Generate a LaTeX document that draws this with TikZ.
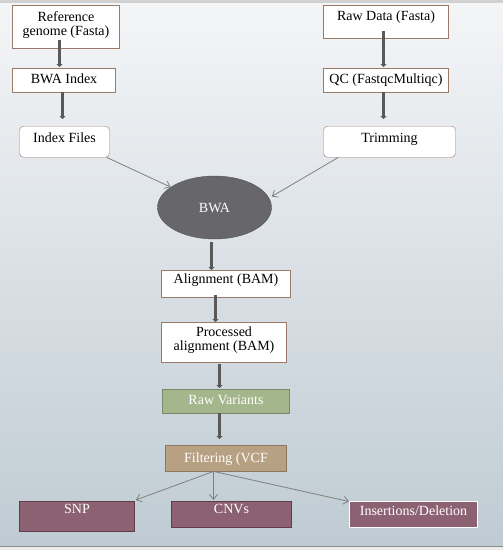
\documentclass[tikz,border=0pt]{standalone}
\usepackage{fontspec}
\setmainfont{Liberation Serif}
\usetikzlibrary{arrows.meta,shapes.geometric}

\definecolor{boxline}{HTML}{9B7A6A}
\definecolor{bwagrey}{HTML}{67666B}
\definecolor{varfill}{HTML}{A4B68B}
\definecolor{varline}{HTML}{7B8A66}
\definecolor{filtfill}{HTML}{B8A083}
\definecolor{filtline}{HTML}{8B7660}
\definecolor{outfill}{HTML}{8C6272}
\definecolor{outline}{HTML}{5F3C4A}
\definecolor{bgbottom}{HTML}{BFCBD3}
\definecolor{bgtop}{HTML}{F4F5F7}

\tikzset{
  flowbox/.style={draw=boxline, fill=white, anchor=north, inner xsep=0pt, inner ysep=0pt,
    align=center, font=\fontsize{14}{14}\selectfont},
  roundbox/.style={flowbox, rounded corners=4pt},
  fatarrow/.style={draw=black!65, line width=2.5pt, -{Triangle[length=3pt,width=6pt]}},
  thinarrow/.style={draw=black!50, line width=0.8pt, -{Straight Barb[length=5pt,width=8pt]}}
}

\begin{document}
\begin{tikzpicture}[x=1pt,y=-1pt]
% background
\shade[top color=bgtop, bottom color=bgbottom] (0,0) rectangle (502,546);
\fill[black!18] (0,0) rectangle (502,3);
\fill[white!92!black] (0,547) rectangle (502,550);
\draw[black!45, line width=1pt] (0,546.5) -- (502,546.5);
\useasboundingbox (0,0) rectangle (502,550);

% left column
\node[flowbox, minimum width=107pt, text height=30pt, text depth=13pt] (refg) at (65.5,5) {Reference\\genome (Fasta)};
\node[flowbox, minimum width=103pt, text height=15pt, text depth=9pt] (bwaidx) at (63.5,68) {BWA Index};
\node[roundbox, minimum width=90pt, text height=16pt, text depth=15pt] (idxf) at (64,126) {Index Files};

% right column
\node[flowbox, minimum width=125pt, text height=15pt, text depth=18pt] (rawd) at (385.5,5) {Raw Data (Fasta)};
\node[flowbox, minimum width=125pt, text height=15pt, text depth=9pt] (qc) at (385.5,68) {QC (FastqcMultiqc)};
\node[roundbox, minimum width=132pt, text height=16pt, text depth=15pt] (trim) at (389,126) {Trimming};

% mapping
\node[ellipse, draw=bwagrey!80!black, fill=bwagrey, minimum width=114pt, minimum height=63pt,
  inner sep=0pt, text=white, font=\fontsize{14}{14}\selectfont] (bwa) at (214,207.5) {BWA};

\node[flowbox, minimum width=129pt, text height=13pt, text depth=14pt] (algn) at (225.5,270) {Alignment (BAM)};
\node[flowbox, minimum width=125pt, text height=28pt, text depth=12pt] (proc) at (223.5,322) {Processed\\alignment (BAM)};
\node[flowbox, draw=varline, fill=varfill, text=white, minimum width=127pt, text height=15pt, text depth=9pt] (rawv) at (225.5,389) {Raw Variants};
\node[flowbox, draw=filtline, fill=filtfill, text=white, minimum width=121pt, text height=17pt, text depth=9pt] (filt) at (225.5,445) {Filtering (VCF};

% outputs
\node[flowbox, draw=outline, fill=outfill, text=white, minimum width=115pt, text height=12pt, text depth=18pt] (snp) at (76.5,501) {SNP};
\node[flowbox, draw=outline, fill=outfill, text=white, minimum width=120pt, text height=12pt, text depth=14pt] (cnv) at (231,501) {CNVs};
\node[flowbox, draw=white, line width=1pt, fill=outfill, text=white, minimum width=128pt, text height=14pt, text depth=12pt] (ins) at (413,501) {Insertions/Deletion};

% connectors
\draw[fatarrow] ([xshift=-6.5pt,yshift=8pt]refg.south) -- ([xshift=-4.5pt,yshift=1pt]bwaidx.north);
\draw[fatarrow, shorten >=7pt] ([xshift=-1.5pt]bwaidx.south) -- ([xshift=-2pt]idxf.north);
\draw[fatarrow] ([xshift=-2.5pt,yshift=7pt]rawd.south) -- ([xshift=-2.5pt,yshift=1pt]qc.north);
\draw[fatarrow, shorten >=7pt] ([xshift=-2.5pt]qc.south) -- ([xshift=-6pt]trim.north);
\draw[thinarrow] ([xshift=-3pt]idxf.south east) -- (bwa);
\draw[thinarrow] ([xshift=15pt]trim.south west) -- ([yshift=11pt]bwa.east);
\draw[fatarrow] ([xshift=-3pt,yshift=-3pt]bwa.south) -- ([xshift=-14.5pt]algn.north);
\draw[fatarrow] ([xshift=-10.5pt,yshift=2pt]algn.south) -- ([xshift=-8.5pt]proc.north);
\draw[fatarrow, shorten <=2pt] ([xshift=-4.5pt]proc.south) -- ([xshift=-6.5pt,yshift=1pt]rawv.north);
\draw[fatarrow, shorten >=6pt] ([xshift=-6.5pt]rawv.south) -- ([xshift=-6.5pt]filt.north);
\coordinate (fsplit) at ([xshift=-12.5pt]filt.south);
\draw[thinarrow] (fsplit) -- ([xshift=1pt,yshift=1pt]snp.north east);
\draw[thinarrow] (fsplit) -- ([xshift=-18pt,yshift=1pt]cnv.north);
\draw[thinarrow] (fsplit) -- ([yshift=-0.5pt]ins.north west);
\end{tikzpicture}
\end{document}
